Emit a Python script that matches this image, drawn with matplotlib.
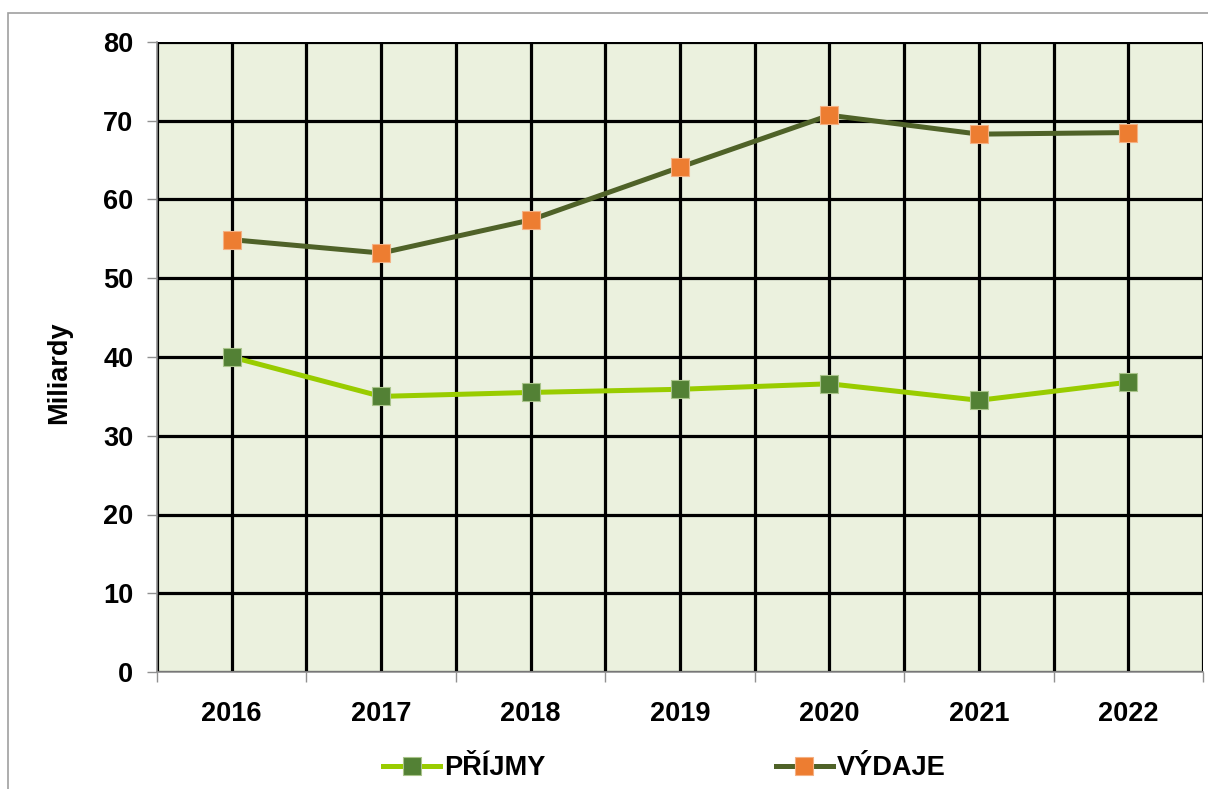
import matplotlib
matplotlib.use("Agg")
import matplotlib.pyplot as plt
from matplotlib.patches import Rectangle
from matplotlib.ticker import FixedLocator, NullFormatter

plt.rcParams["font.family"] = ["Liberation Sans", "DejaVu Sans"]
plt.rcParams["font.weight"] = "bold"

roky = ["2016", "2017", "2018", "2019", "2020", "2021", "2022"]
prijmy = [40.0, 35.0, 35.5, 35.9, 36.6, 34.5, 36.8]
vydaje = [54.9, 53.2, 57.4, 64.1, 70.7, 68.3, 68.5]
y_ticks = [0, 10, 20, 30, 40, 50, 60, 70, 80]

fig = plt.figure(figsize=(12.08, 7.89), dpi=100)
ax = fig.add_axes([157 / 1208, 1 - 672 / 789, 1046 / 1208, 630 / 789])
ax.set_facecolor("#EBF1DE")

# light frame around the whole chart
fig.patches.append(Rectangle((8 / 1208, -0.1), 1.2, 1 - 13 / 789 + 0.1,
                             transform=fig.transFigure, fill=False,
                             edgecolor="#A0A0A0", linewidth=1.2))

x = list(range(len(roky)))
ax.plot(x, prijmy, color="#99CC00", lw=3.6, marker="s", ms=13.5,
        mfc="#538135", mec="#A9C48A", mew=0.8, label="PŘÍJMY", zorder=3)
ax.plot(x, vydaje, color="#4F6228", lw=3.6, marker="s", ms=13.5,
        mfc="#ED7D31", mec="#F4B183", mew=0.8, label="VÝDAJE", zorder=4)

ax.set_xlim(-0.5, len(roky) - 0.5)
ax.set_ylim(0, 80)
ax.set_xticks(x)
ax.set_xticklabels(roky)
ax.xaxis.set_minor_locator(FixedLocator([i - 0.5 for i in range(len(roky) + 1)]))
ax.xaxis.set_minor_formatter(NullFormatter())
ax.set_yticks(y_ticks)

ax.set_axisbelow(True)
ax.grid(True, which="both", axis="x", color="black", lw=2.3)
ax.grid(True, which="major", axis="y", color="black", lw=2.3)

fs = 19.5
ax.tick_params(axis="x", which="major", length=0, pad=21, labelsize=fs)
ax.tick_params(axis="x", which="minor", length=7, width=1, color="#909090",
               direction="out")
ax.tick_params(axis="y", length=7, width=1, color="#909090", pad=10,
               labelsize=fs)

for s in ["top", "right"]:
    ax.spines[s].set_visible(False)
for s in ["left", "bottom"]:
    ax.spines[s].set_color("#909090")
    ax.spines[s].set_linewidth(1.2)
    ax.spines[s].set_zorder(5)

ax.set_ylabel("Miliardy", fontsize=fs, fontweight="bold")
ax.yaxis.set_label_coords(-0.081, 0.475)

fig.legend(loc="center", bbox_to_anchor=(0.55, 0.026), ncol=2, frameon=False,
           fontsize=fs, handlelength=2.1, handletextpad=0.15, columnspacing=8.5,
           borderaxespad=0)

fig.savefig("out.png", dpi=100)
